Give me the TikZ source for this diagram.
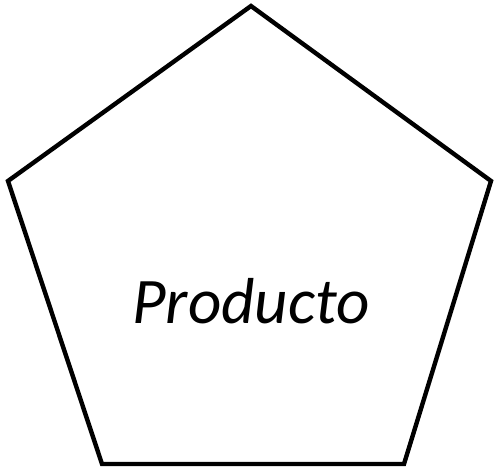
\documentclass[tikz,border=0pt]{standalone}
\usepackage{fontspec}
\setmainfont{Carlito}
\usetikzlibrary{positioning}

\begin{document}
\begin{tikzpicture}[
    x=1pt, y=1pt,
    edge/.style={draw, line width=4.4pt, line join=miter},
    label/.style={font=\fontsize{65}{67}\selectfont\itshape}
  ]
    \useasboundingbox (0,0) rectangle (496,469);

    % Pentagon corners
    \coordinate (top) at (251,463);
    \coordinate (right) at (491,288);
    \coordinate (botright) at (404,5);
    \coordinate (botleft) at (102,5);
    \coordinate (left) at (8,288);

    \draw[edge] (top) -- (right) -- (botright) -- (botleft) -- (left) -- cycle;

    % Label
    \node[label] (prod) at (251,168) {Producto};
  \end{tikzpicture}
\end{document}
